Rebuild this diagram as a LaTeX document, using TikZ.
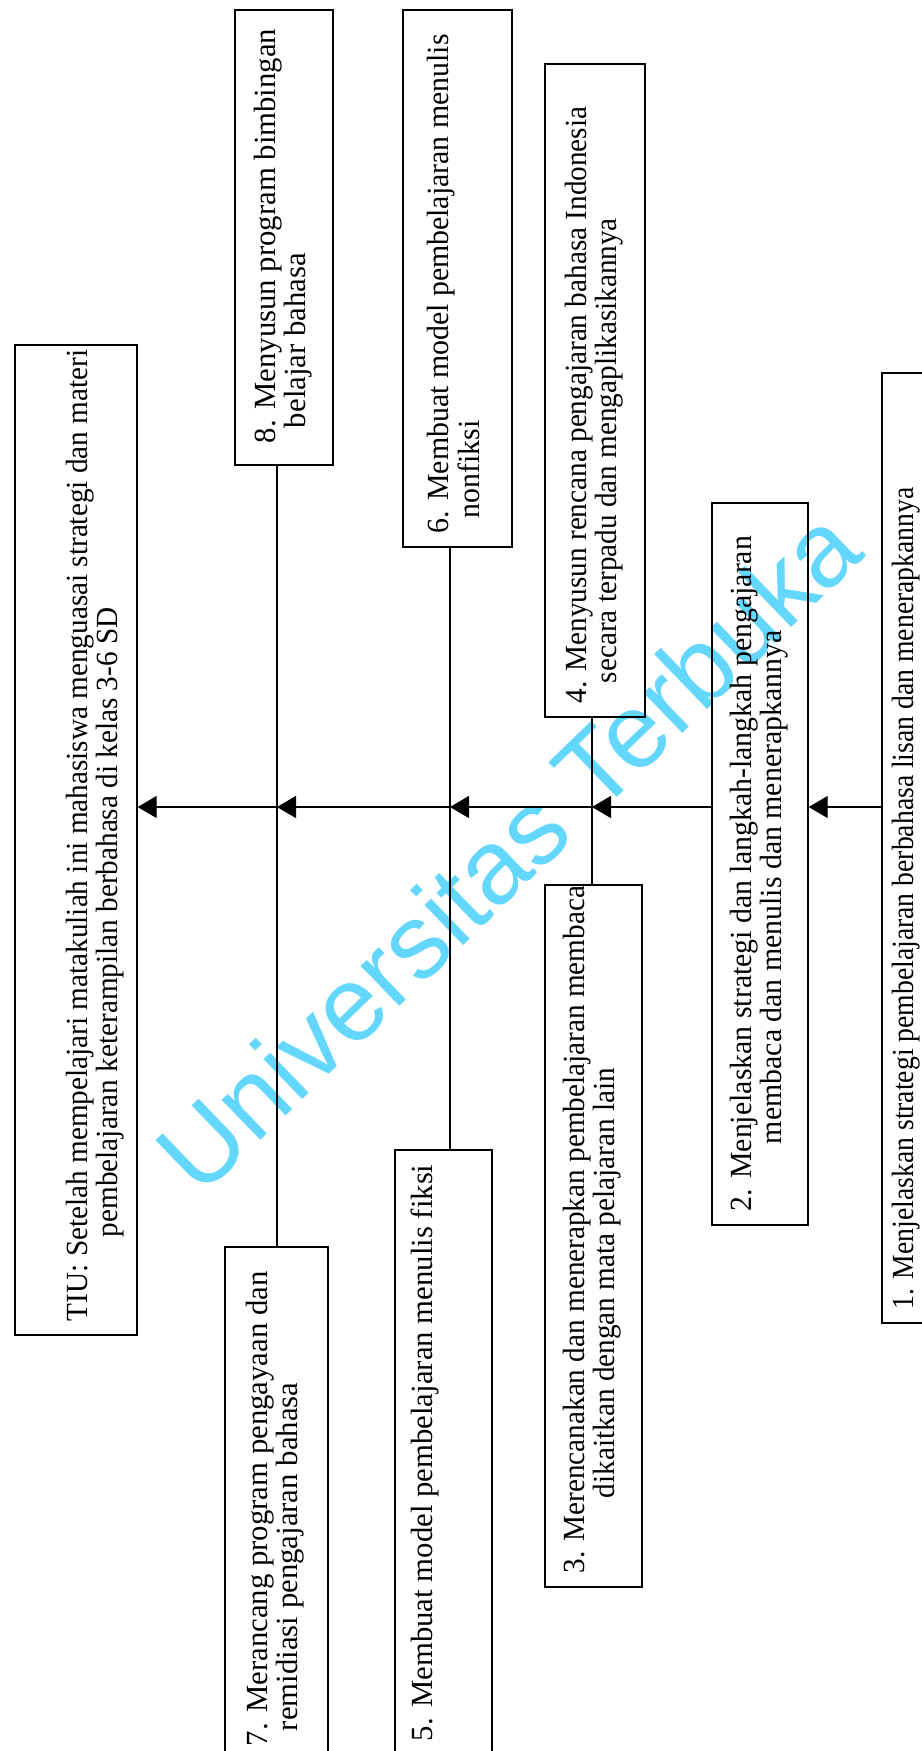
\documentclass[tikz,border=0pt]{standalone}
\usepackage{fontspec}
\setmainfont{Liberation Serif}
\newfontfamily\rapatfont[FakeStretch=0.95]{Liberation Serif}
\newfontfamily\sempitfont[FakeStretch=0.9]{Liberation Serif}
\newfontfamily\agakfont[FakeStretch=0.97]{Liberation Serif}
\newfontfamily\tandafont{Liberation Sans}
\usetikzlibrary{arrows.meta}
\definecolor{tandabiru}{RGB}{100,215,255}
\newlength{\px}
\setlength{\px}{0.2mm}
% isi kotak: [posisi]{tinggi}{panjang}{baris}, ukuran dalam px
\newcommand{\kotak}[4][c]{\parbox[c][#2\px][#1]{\dimexpr#3\px-28\px\relax}{\begin{tabular}{@{}l@{}}#4\end{tabular}}}
\tikzset{
  tujuan/.style={draw, line width=0.8pt, rotate=90, inner xsep=2.8mm, inner ysep=0pt,
    font=\fontsize{17.5}{17}\selectfont}
}
\tikzset{
  rapat/.style={font=\rapatfont\fontsize{17.5}{16.5}\selectfont},
  sempit/.style={font=\sempitfont\fontsize{17.5}{17}\selectfont},
  agak/.style={font=\agakfont\fontsize{17.5}{17}\selectfont}
}
\tikzset{
  panah/.style={line width=0.8pt, -{Triangle[length=3.8mm,width=4.4mm]}}
}
\begin{document}
\begin{tikzpicture}[x=0.2mm, y=-0.2mm]
      \useasboundingbox (0,0) rectangle (922,1751);
      % tanda air
      \node[text=tandabiru, font=\tandafont\fontsize{60}{60}\selectfont, rotate=44, anchor=base, inner sep=0pt]
        (tanda) at (534,877) {Universitas Terbuka};
      % tujuan instruksional umum
      \node[tujuan, rapat] (tiu) at (76,840) {\kotak{122}{990}{\rule{0pt}{62\px}TIU: Setelah mempelajari matakuliah ini mahasiswa menguasai strategi dan materi\\\hspace*{84\px}pembelajaran keterampilan berbahasa di kelas 3-6 SD}};
      % kotak atas
      \node[tujuan] (b8) at (284,237.5) {\kotak{98}{455}{\hspace*{8\px}8. Menyusun program bimbingan\\\hspace*{23\px}belajar bahasa}};
      \node[tujuan, agak] (b6) at (457.5,278.5) {\kotak{109}{537}{6. Membuat model pembelajaran menulis\\\hspace*{15\px}nonfiksi}};
      \node[tujuan, rapat] (b4) at (595,390.5) {\kotak{100}{653}{4. Menyusun rencana pengajaran bahasa Indonesia\\\hspace*{20\px}secara terpadu dan mengaplikasikannya}};
      \node[tujuan, agak] (b2) at (760,864) {\kotak{96}{722}{2. Menjelaskan strategi dan langkah-langkah pengajaran\\\hspace*{67\px}membaca dan menulis dan menerapkannya}};
      \node[tujuan, sempit] (b1) at (932,848) {\kotak[t]{100}{950}{\rule{0pt}{31\px}1. Menjelaskan strategi pembelajaran berbahasa lisan dan menerapkannya}};
      % kotak bawah
      \node[tujuan] (b7) at (276.5,1503.5) {\kotak{103}{513}{7. Merancang program pengayaan dan\\\hspace*{15\px}remidiasi pengajaran bahasa}};
      \node[tujuan] (b5) at (443.5,1452.5) {\kotak[t]{97}{605}{\rule{0pt}{37\px}5. Membuat model pembelajaran menulis fiksi}};
      \node[tujuan, rapat] (b3) at (593.5,1236) {\kotak{97}{702}{3. Merencanakan dan menerapkan pembelajaran membaca\\\hspace*{75\px}dikaitkan dengan mata pelajaran lain}};
      % titik temu di garis utama
      \coordinate (k87) at (277,807);
      \coordinate (k65) at (450,807);
      \coordinate (k43) at (592,807);
      % garis tegak antar kotak
      \draw[line width=0.8pt] (b8.west -| k87) -- (b7.east -| k87);
      \draw[line width=0.8pt] (b6.west -| k65) -- (b5.east -| k65);
      \draw[line width=0.8pt] (b4.west -| k43) -- (b3.east -| k43);
      % panah menuju TIU
      \draw[panah] (b1.north |- k43) -- (b2.south |- k43);
      \draw[panah] (b2.north |- k43) -- (k43);
      \draw[panah] (k43) -- (k65);
      \draw[panah] (k65) -- (k87);
      \draw[panah] (k87) -- (tiu.south |- k87);
\end{tikzpicture}
\end{document}
